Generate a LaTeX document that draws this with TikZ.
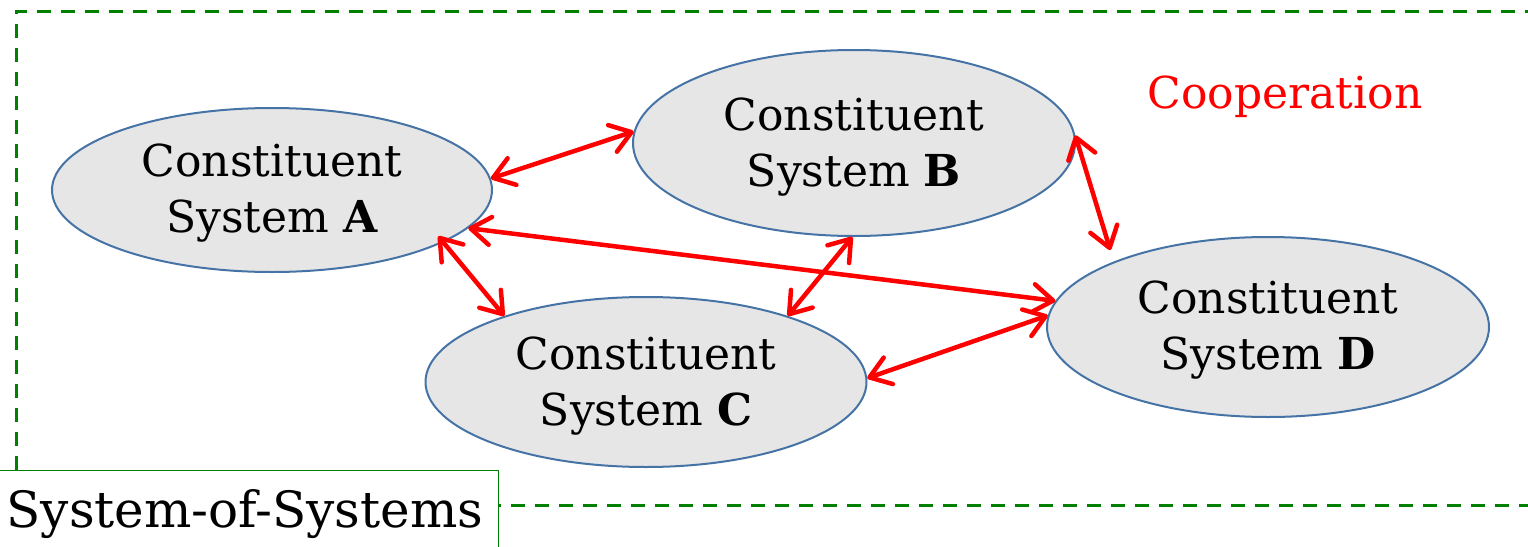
\documentclass[tikz,border=0pt]{standalone}
\usepackage{fontspec}
\setmainfont{DejaVu Serif}
\usetikzlibrary{shapes.geometric,arrows.meta}
\definecolor{sosgreen}{RGB}{0,128,0}
\definecolor{csfill}{RGB}{230,230,230}
\definecolor{csedge}{RGB}{70,115,165}
\tikzset{
  csys/.style={ellipse, draw=csedge, line width=2pt, fill=csfill, inner sep=0pt},
  cstext/.style={align=center, font=\fontsize{44}{56}\selectfont},
  coop/.style={draw=red, line width=4.5pt, line cap=round,
    {Straight Barb[length=20pt,width=28pt,line cap=round,line join=round]}-{Straight Barb[length=20pt,width=28pt,line cap=round,line join=round]}},
  frame/.style={draw=sosgreen, line width=3pt, dash pattern=on 14pt off 10pt},
}
\begin{document}
\begin{tikzpicture}[x=1pt,y=-1pt]
\useasboundingbox (0,0) rectangle (1528,546);
% dashed system-of-systems boundary
\draw[frame] (16,470) -- (16,11) -- (1534,11) -- (1534,505) -- (498,505);
% constituent systems
\node[csys, minimum width=440pt, minimum height=164pt] (A) at (272,190) {};
\node[csys, minimum width=442pt, minimum height=186pt] (B) at (854,143) {};
\node[csys, minimum width=441pt, minimum height=170pt] (C) at (646,382) {};
\node[csys, minimum width=442pt, minimum height=180pt] (D) at (1268,327) {};
\node[cstext] (At) at (272,193) {Constituent\\System \textbf{A}};
\node[cstext] (Bt) at (854,147) {Constituent\\System \textbf{B}};
\node[cstext] (Ct) at (646,386) {Constituent\\System \textbf{C}};
\node[cstext] (Dt) at (1268,330) {Constituent\\System \textbf{D}};
% cooperation links
\draw[coop] (A.3.6) -- (B.177.4);
\draw[coop, shorten >=12pt] (B.2.6) -- (D.157.7);
\draw[coop] (A.-11.3) -- (D.173.6);
\draw[coop, shorten <=-8pt] (A.-17.6) -- (C.155);
\draw[coop] (B.-91) -- (C.25);
\draw[coop] (C.1.5) -- (D.177.7);
\node[text=red, font=\fontsize{44}{50}\selectfont, anchor=base] (coop) at (1285,108) {Cooperation};
% label tab
\node[draw=sosgreen, line width=1.4pt, fill=white, anchor=north west, minimum width=500pt,
  minimum height=90pt, inner sep=0pt] (tab) at (-2,470) {};
\node[font=\fontsize{50}{60}\selectfont, anchor=base west] (tabtext) at (3,527) {System-of-Systems};
\end{tikzpicture}
\end{document}
